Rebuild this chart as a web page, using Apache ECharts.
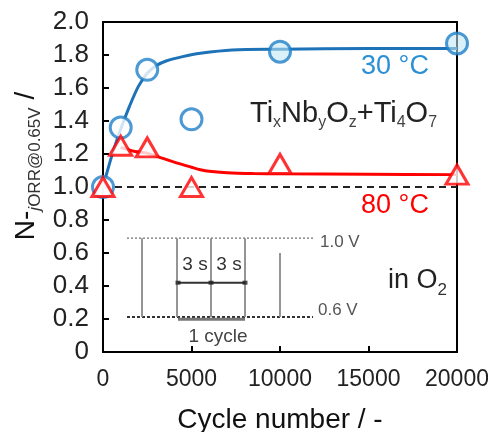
<!DOCTYPE html>
<html><head><meta charset="utf-8">
<script src="https://cdn.jsdelivr.net/npm/echarts@6/dist/echarts.min.js"></script>
<style>html,body{margin:0;padding:0;background:#fff}#c{width:488px;height:432px}</style>
</head><body><div id="c"></div>
<script>
// measured points
const cycles = [0, 1000, 2500, 5000, 10000, 20000];
const n30 = [1.00, 1.36, 1.71, 1.41, 1.82, 1.87];
const n80 = [1.00, 1.25, 1.24, 1.00, 1.14, 1.075];
// fitted curves
const fit30Cycles = [0, 500, 1000, 1500, 2000, 2500, 3000, 3600, 4500, 5500, 7300, 10000, 15000, 20000];
const fit30 = [1.00, 1.19, 1.35, 1.49, 1.61, 1.69, 1.735, 1.765, 1.79, 1.81, 1.83, 1.835, 1.84, 1.84];
const fit80Cycles = [1000, 1800, 2500, 3200, 4200, 5000, 5500, 6000, 7000, 8500, 10000, 15000, 20000];
const fit80 = [1.24, 1.215, 1.205, 1.18, 1.145, 1.12, 1.105, 1.095, 1.087, 1.082, 1.08, 1.077, 1.075];
const refLevel = [1.0];
// tick labels
const xTicks = ['0', '5000', '10000', '15000', '20000'];
const yTicks = ['0', '0.2', '0.4', '0.6', '0.8', '1.0', '1.2', '1.4', '1.6', '1.8', '2.0'];
// inset schematic (in chart data units)
const insetSpan = [1356, 11865];
const insetLevels = [0.69, 0.212];
const insetEdges = [2204, 4181, 6102, 8023];
const insetLastEdge = [10000, 0.60];
const insetCycle = [4237, 6102, 8023];
const insetArrowY = [0.42];
const insetBracketY = [0.198];

const FONT = 'Liberation Sans, Arial, sans-serif';
const chart = echarts.init(document.getElementById('c'));

function pairs(xs, ys) { return xs.map((x, i) => [x, ys[i]]); }

const edgeData = [];
insetEdges.forEach(x => { edgeData.push([x, insetLevels[0]], [x, insetLevels[1]], ['-', '-']); });
edgeData.push([insetLastEdge[0], insetLastEdge[1]], [insetLastEdge[0], insetLevels[1]]);

const seg = (name, data, color, width, type, z) => ({
  name, type: 'line', data, showSymbol: false, silent: true, z: z || 1,
  lineStyle: { color, width, type: type || 'solid' }, animation: false, connectNulls: false
});

chart.setOption({
  animation: false,
  grid: { left: 103, right: 31, top: 22, bottom: 80, show: true, borderColor: '#000', borderWidth: 2,
    backgroundColor: 'transparent', outerBoundsMode: 'none', containLabel: false },
  xAxis: {
    type: 'value', min: 0, max: 20000, interval: 5000,
    axisLine: { show: true, lineStyle: { color: '#000', width: 2 } },
    axisTick: { show: true, inside: true, length: 6, lineStyle: { color: '#000', width: 2 } },
    splitLine: { show: false },
    axisLabel: { fontFamily: FONT, fontSize: 23, color: '#222', margin: 16,
      formatter: v => xTicks[Math.round(v / 5000)] },
    name: 'Cycle number / -', nameLocation: 'middle', nameGap: 54,
    nameTextStyle: { fontFamily: FONT, fontSize: 28, color: '#111' }
  },
  yAxis: {
    type: 'value', min: 0, max: 2, interval: 0.2,
    axisLine: { show: true, lineStyle: { color: '#000', width: 2 } },
    axisTick: { show: true, inside: true, length: 6, lineStyle: { color: '#000', width: 2 } },
    splitLine: { show: false },
    axisLabel: { fontFamily: FONT, fontSize: 26, color: '#222', margin: 14,
      formatter: v => yTicks[Math.round(v / 0.2)] }
  },
  graphic: [
    { type: 'text', x: 26, y: 166, rotation: Math.PI / 2, z: 10,
      style: { text: '{m|N-}{si|j}{s|ORR@0.65V}{m| /}', textAlign: 'center', textVerticalAlign: 'middle',
        rich: { m: { fontFamily: FONT, fontSize: 28, fill: '#111' },
                si: { fontFamily: FONT, fontSize: 17, fontStyle: 'italic', fill: '#333', padding: [18, 0, 0, 0] },
                s: { fontFamily: FONT, fontSize: 17, fill: '#333', padding: [18, 0, 0, 0] } } } },
    { type: 'text', x: 395, y: 67, z: 10,
      style: { text: '30 °C', fontFamily: FONT, fontSize: 27, fill: '#2b8fd6', textAlign: 'center', textVerticalAlign: 'middle' } },
    { type: 'text', x: 395, y: 206, z: 10,
      style: { text: '80 °C', fontFamily: FONT, fontSize: 27, fill: '#ff0000', textAlign: 'center', textVerticalAlign: 'middle' } },
    { type: 'text', x: 250, y: 114, z: 10,
      style: { text: '{m|Ti}{s|x}{m|Nb}{s|y}{m|O}{s|z}{m|+Ti}{s|4}{m|O}{s|7}', textAlign: 'left', textVerticalAlign: 'middle',
        rich: { m: { fontFamily: FONT, fontSize: 29, fill: '#222' },
                s: { fontFamily: FONT, fontSize: 16, fill: '#444', padding: [18, 0, 0, 0] } } } },
    { type: 'text', x: 388, y: 281, z: 10,
      style: { text: '{m|in O}{s|2}', textAlign: 'left', textVerticalAlign: 'middle',
        rich: { m: { fontFamily: FONT, fontSize: 27, fill: '#222' },
                s: { fontFamily: FONT, fontSize: 17, fill: '#333', padding: [18, 0, 0, 0] } } } },
    { type: 'text', x: 320, y: 242, z: 10,
      style: { text: '1.0 V', fontFamily: FONT, fontSize: 17, fill: '#555', textAlign: 'left', textVerticalAlign: 'middle' } },
    { type: 'text', x: 318, y: 310, z: 10,
      style: { text: '0.6 V', fontFamily: FONT, fontSize: 17, fill: '#555', textAlign: 'left', textVerticalAlign: 'middle' } },
    { type: 'text', x: 195, y: 265, z: 10,
      style: { text: '3 s', fontFamily: FONT, fontSize: 19, fill: '#333', textAlign: 'center', textVerticalAlign: 'middle' } },
    { type: 'text', x: 229, y: 265, z: 10,
      style: { text: '3 s', fontFamily: FONT, fontSize: 19, fill: '#333', textAlign: 'center', textVerticalAlign: 'middle' } },
    { type: 'text', x: 218, y: 337, z: 10,
      style: { text: '1 cycle', fontFamily: FONT, fontSize: 19, fill: '#444', textAlign: 'center', textVerticalAlign: 'middle' } }
  ],
  series: [
    seg('inset-high', [[insetSpan[0], insetLevels[0]], [insetSpan[1], insetLevels[0]]], '#888', 1.5, [2, 2]),
    seg('inset-low', [[insetSpan[0], insetLevels[1]], [insetSpan[1], insetLevels[1]]], '#333', 2, [3, 2]),
    seg('inset-edges', edgeData, '#8a8a8a', 1.8),
    seg('inset-arrow', [[insetCycle[0], insetArrowY[0]], [insetCycle[2], insetArrowY[0]]], '#333', 2),
    seg('inset-bracket', [[insetCycle[0], insetBracketY[0]], [insetCycle[2], insetBracketY[0]]], '#777', 3),
    { name: 'inset-arrowmarks', type: 'scatter', silent: true, symbol: 'rect', symbolSize: [5, 4],
      data: insetCycle.map(x => [x, insetArrowY[0]]), itemStyle: { color: '#222' }, z: 2 },
    { name: 'ref', type: 'line', data: [[0, refLevel[0]], [20000, refLevel[0]]], showSymbol: false, silent: true,
      lineStyle: { color: '#222', width: 1.8, type: [7, 5] }, z: 1 },
    { name: 'fit 30', type: 'line', data: pairs(fit30Cycles, fit30), smooth: 0.3, showSymbol: false,
      lineStyle: { color: '#1e72b8', width: 3 }, z: 4 },
    { name: 'fit 80', type: 'line', data: pairs(fit80Cycles, fit80), smooth: 0.3, showSymbol: false,
      lineStyle: { color: '#ff0000', width: 3 }, z: 4 },
    { name: '30 °C', type: 'scatter', symbol: 'circle', symbolSize: 21,
      data: pairs(cycles, n30).map((p, i) => ({ value: p, itemStyle: { color: i >= 4 ? 'rgba(190,230,245,0.7)' : '#fff' } })),
      itemStyle: { color: '#fff', borderColor: '#1f80c8', borderWidth: 3 }, z: 5 },
    { name: '80 °C', type: 'scatter', symbol: 'triangle', symbolSize: [22, 19],
      data: pairs(cycles, n80),
      itemStyle: { color: '#fff', borderColor: '#ff0000', borderWidth: 3 }, z: 6 }
  ]
});
</script></body></html>
